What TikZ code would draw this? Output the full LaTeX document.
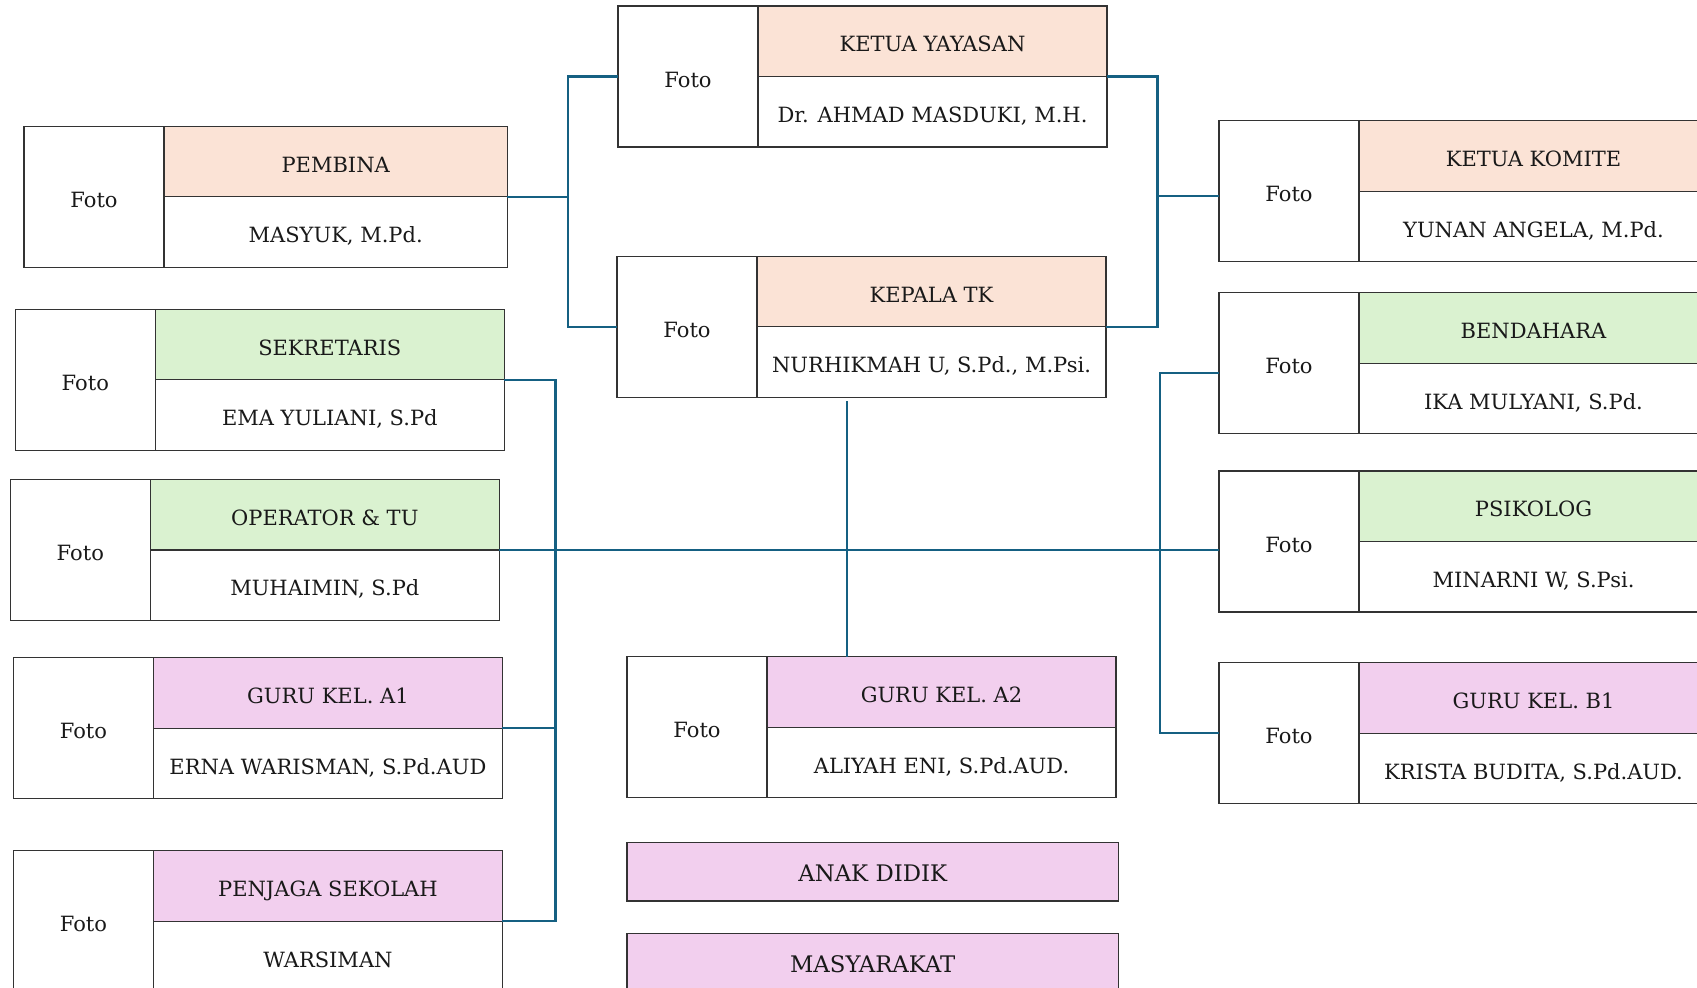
\documentclass[tikz,border=0pt]{standalone}
\usepackage{fontspec}
\setmainfont{DejaVu Serif}
\usepackage{tikz}
\usetikzlibrary{positioning,calc}
\definecolor{krem}{HTML}{FBE3D6}
\definecolor{hijau}{HTML}{DAF2D0}
\definecolor{ungu}{HTML}{F2CFEE}
\definecolor{biru}{HTML}{156082}
\definecolor{tepi}{HTML}{333333}
\tikzstyle{kotak} = [rectangle, draw=tepi, line width=0.65pt, inner sep=0pt, outer sep=0pt, text=black!90, font=\fontsize{10.5pt}{12pt}\selectfont, text height=10.6pt, text depth=0pt]
\tikzstyle{foto} = [kotak, fill=white, minimum width=70pt, minimum height=70.5pt, anchor=north west]
\tikzstyle{judul} = [kotak, minimum height=35.25pt, anchor=north west]
\tikzstyle{isi} = [judul, fill=white]
\tikzstyle{umum} = [kotak, fill=ungu, minimum width=245.75pt, minimum height=29.25pt, anchor=north west, font=\fontsize{11.4pt}{13pt}\selectfont, text height=9.9pt]
\tikzstyle{garis} = [draw=biru, line width=1.2pt]

% satu jabatan: foto + nama jabatan + nama orang
\newcommand{\jabatan}[7][174.5pt]{%
  \node[foto] (#2-f) at (#3,#4) {Foto};
  \node[judul, fill=#5, minimum width=#1] (#2-t) at (#2-f.north east) {#6};
  \node[isi, minimum width=#1, below=0pt of #2-t] (#2-n) {#7};
}

\begin{document}
\begin{tikzpicture}[x=0.5pt, y=-0.5pt]
    \useasboundingbox (0,0) rectangle (1697,987);

    % pimpinan
    \jabatan{ketua}{618}{6}{krem}{KETUA YAYASAN}{Dr. AHMAD MASDUKI, M.H.}
    \jabatan{kepala}{617}{256.3}{krem}{KEPALA TK}{NURHIKMAH U, S.Pd., M.Psi.}
    \jabatan[171.7pt]{pembina}{24}{126.3}{krem}{PEMBINA}{MASYUK, M.Pd.}
    \jabatan{komite}{1219}{120.7}{krem}{KETUA KOMITE}{YUNAN ANGELA, M.Pd.}

    % staf kiri
    \jabatan{sekretaris}{15.3}{309.3}{hijau}{SEKRETARIS}{EMA YULIANI, S.Pd}
    \jabatan{operator}{10.3}{479.5}{hijau}{OPERATOR \& TU}{MUHAIMIN, S.Pd}
    \jabatan{guruA1}{13.4}{657.7}{ungu}{GURU KEL. A1}{ERNA WARISMAN, S.Pd.AUD}
    \jabatan{penjaga}{13.4}{850.7}{ungu}{PENJAGA SEKOLAH}{WARSIMAN}

    % staf kanan
    \jabatan{bendahara}{1219}{292.7}{hijau}{BENDAHARA}{IKA MULYANI, S.Pd.}
    \jabatan{psikolog}{1219}{471}{hijau}{PSIKOLOG}{MINARNI W, S.Psi.}
    \jabatan{guruB1}{1219}{662.7}{ungu}{GURU KEL. B1}{KRISTA BUDITA, S.Pd.AUD.}

    % tengah
    \jabatan{guruA2}{627}{656.7}{ungu}{GURU KEL. A2}{ALIYAH ENI, S.Pd.AUD.}
    \node[umum] (anak) at (627,842.5) {ANAK DIDIK};
    \node[umum] (masyarakat) at (627,933.3) {MASYARAKAT};

    \coordinate (kiri) at (567.7,0);
    \coordinate (kanan) at (1157.3,0);
    \coordinate (staf) at (555.5,0);
    \coordinate (samping) at (1160,0);
    \coordinate (tengah) at (847,401);
    \coordinate (komite-c) at ($(komite-f.west)+(0,4.5)$);

    \draw[garis] (ketua-f.west) -| (kiri |- kepala-f.west) -- (kepala-f.west);
    \draw[garis] (pembina-t.south east) -- (kiri |- pembina-t.south east);
    \draw[garis] (ketua-t.south east) -| (kanan |- kepala-t.south east) -- (kepala-t.south east);
    \draw[garis] (komite-c) -- (kanan |- komite-c);

    \draw[garis] (sekretaris-t.south east) -| (staf |- penjaga-t.south east) -- (penjaga-t.south east);
    \draw[garis] (guruA1-t.south east) -- (staf |- guruA1-t.south east);
    \draw[garis] (operator-t.south east) -- (psikolog-f.west |- operator-t.south east);

    \draw[garis] ($(bendahara-f.west)+(0,9.5)$) -| (samping |- guruB1-f.west) -- (guruB1-f.west);
    \draw[garis] (tengah) -- (tengah |- guruA2-t.north);
\end{tikzpicture}
\end{document}
